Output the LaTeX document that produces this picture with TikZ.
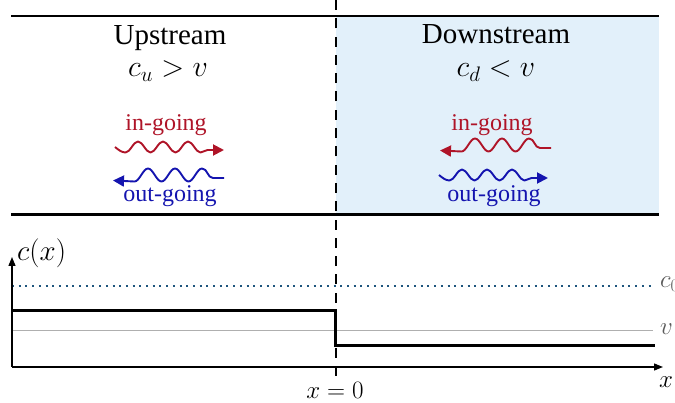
\RequirePackage{fix-cm}
\documentclass[tikz,border=0pt]{standalone}
\usepackage[no-math]{fontspec}
\setmainfont{Liberation Serif}
\usetikzlibrary{arrows.meta}
\definecolor{inred}{RGB}{175,20,40}
\definecolor{outblue}{RGB}{20,20,175}
\definecolor{downfill}{RGB}{226,240,250}
\definecolor{dotcol}{RGB}{30,85,125}
\definecolor{vgrey}{RGB}{175,175,175}
\definecolor{labgrey}{RGB}{90,90,90}
\begin{document}
\begin{tikzpicture}[x=1pt,y=-1pt,
  head/.style={font=\fontsize{29}{34}\selectfont, anchor=base, inner sep=0pt},
  headmath/.style={font=\fontsize{30}{36}\selectfont, anchor=base, inner sep=0pt},
  wlab/.style={font=\fontsize{24}{28}\selectfont, anchor=base, inner sep=0pt},
  plotlab/.style={font=\fontsize{25}{30}\selectfont, anchor=base west, inner sep=0pt},
  rulebar/.style={line width=2.2pt},
  wave/.style={line width=1.9pt, line join=round, -{Triangle[length=11pt,width=11pt]}},
  axisline/.style={line width=1.3pt, -{Triangle[length=9pt,width=7pt]}},
]
\useasboundingbox (0,0) rectangle (675,403);
% upper panel
\coordinate (tl) at (11,15.7);
\coordinate (tr) at (659,15.7);
\coordinate (bl) at (11,214.5);
\coordinate (br) at (659,214.5);
\coordinate (tm) at (335.7,15.7);
\fill[downfill] (tm) rectangle (br);
\draw[rulebar] (tl) -- (tr);
\draw[rulebar] (bl) -- (br);
% headings
\node[head] (up) at (170,45) {Upstream};
\node[headmath] (upc) at (168,77) {$c_u > v$};
\node[head] (down) at (496,44) {Downstream};
\node[headmath] (downc) at (496,77) {$c_d < v$};
% wave labels
\node[wlab, text=inred] (upin) at (166,131) {in-going};
\node[wlab, text=outblue] (upout) at (170,202) {out-going};
\node[wlab, text=inred] (downin) at (492,131) {in-going};
\node[wlab, text=outblue] (downout) at (494,202) {out-going};
% waves
\coordinate (ria) at (115,147);
\coordinate (rib) at (224,150);
\coordinate (boa) at (224,178);
\coordinate (bob) at (113,180.5);
\coordinate (rda) at (551,148);
\coordinate (rdb) at (440,150.5);
\coordinate (bda) at (439,175);
\coordinate (bdb) at (548,178);
% upstream in-going (right)
\draw[wave, inred] (ria) sin ++(10.5,5.5)
  cos ++(6.25,-5.5) sin ++(6.25,-5.5) cos ++(6.25,5.5) sin ++(6.25,5.5)
  cos ++(6.25,-5.5) sin ++(6.25,-5.5) cos ++(6.25,5.5) sin ++(6.25,5.5)
  cos ++(6.25,-5.5) sin ++(6.25,-5.5) cos ++(6.25,5.5) sin ++(6.25,5.5)
  to[out=0,in=180] ++(7,-2.5) -- (rib);
% downstream out-going (right)
\draw[wave, outblue] (bda) sin ++(10.5,5.5)
  cos ++(6.25,-5.5) sin ++(6.25,-5.5) cos ++(6.25,5.5) sin ++(6.25,5.5)
  cos ++(6.25,-5.5) sin ++(6.25,-5.5) cos ++(6.25,5.5) sin ++(6.25,5.5)
  cos ++(6.25,-5.5) sin ++(6.25,-5.5) cos ++(6.25,5.5) sin ++(6.25,5.5)
  to[out=0,in=180] ++(7,-2.5) -- (bdb);
% upstream out-going (left)
\draw[wave, outblue] (boa) -- ++(-11,0) to[out=180,in=0] ++(-11,-9.5)
  cos ++(-6.75,6.5) sin ++(-6.75,6.5) cos ++(-6.75,-6.5) sin ++(-6.75,-6.5)
  cos ++(-6.75,6.5) sin ++(-6.75,6.5) cos ++(-6.75,-6.5) sin ++(-6.75,-6.5)
  cos ++(-6.75,6.5) sin ++(-6.75,6.5) -- (bob);
% downstream in-going (left)
\draw[wave, inred] (rda) -- ++(-11,0) to[out=180,in=0] ++(-11,-9.5)
  cos ++(-6.75,6.5) sin ++(-6.75,6.5) cos ++(-6.75,-6.5) sin ++(-6.75,-6.5)
  cos ++(-6.75,6.5) sin ++(-6.75,6.5) cos ++(-6.75,-6.5) sin ++(-6.75,-6.5)
  cos ++(-6.75,6.5) sin ++(-6.75,6.5) -- (rdb);
% plot
\coordinate (o) at (12,367);
\coordinate (xend) at (663,367);
\coordinate (yend) at (12,257);
\coordinate (c0a) at (12,286);
\coordinate (c0b) at (653,286);
\coordinate (va) at (12,330.5);
\coordinate (vb) at (653,330.5);
\coordinate (s1) at (12,310.5);
\coordinate (s2) at (335.7,310.5);
\coordinate (s3) at (335.7,345.5);
\coordinate (s4) at (655,345.5);
\draw[dotcol, line width=2pt, dash pattern=on 2pt off 4.7pt] (c0a) -- (c0b);
\draw[vgrey, line width=1.2pt] (va) -- (vb);
\draw[line width=2.8pt, miter limit=4] (s1) -- (s2) -- (s3) -- (s4);
\draw[axisline] (o) -- (xend);
\draw[axisline] (o) -- (yend);
% dashed divider
\coordinate (dtop) at (335.7,0);
\coordinate (dbot) at (335.7,376);
\draw[line width=2.2pt, dash pattern=on 10pt off 8.3pt] (dbot) -- (dtop);
% plot labels
\node[plotlab, font=\fontsize{29}{34}\selectfont] (cxlab) at (17,261) {$c(x)$};
\node[plotlab, anchor=base] (x0lab) at (335,399) {$x = 0$};
\node[plotlab, text=labgrey] (c0lab) at (660,288) {$c_0$};
\node[plotlab, text=labgrey] (vlab) at (660,335) {$v$};
\node[plotlab] (xlab) at (659,388) {$x$};
\end{tikzpicture}
\end{document}
